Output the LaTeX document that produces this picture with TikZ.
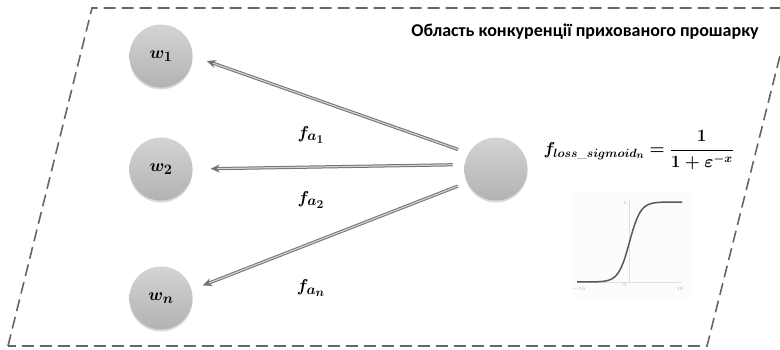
\documentclass[tikz,border=0pt]{standalone}
\usepackage{amsmath}
\usepackage{fontspec}
\usepackage{bm}
\usetikzlibrary{arrows.meta,shadows}
\newfontfamily\titlefont{Carlito}
\DeclareMathSizes{19}{19}{15}{12}
\DeclareMathSizes{16.5}{16.5}{13}{10}

\begin{document}
\begin{tikzpicture}[x=1pt,y=-1pt,
  neuron/.style={circle, minimum size=63pt, inner sep=0pt, top color=black!17, bottom color=black!30,
    drop shadow={opacity=0.3, shadow xshift=0pt, shadow yshift=-2pt}, font=\fontsize{19}{22}\selectfont},
  link/.style={draw=black!55, double=black!18, line width=1pt, double distance=1.2pt,
    -{Stealth[length=9pt,width=8pt]}},
  lbl/.style={font=\fontsize{19}{22}\selectfont},
  tick/.style={font=\fontsize{5}{5}\selectfont, text=gray!70, inner sep=0.5pt}]
\useasboundingbox (0,0) rectangle (780,349);

% competition area
\draw[black!60, line width=1.6pt, dash pattern=on 12pt off 6pt]
  (8,346) -- (92,8) -- (792,8) -- (707,346) -- cycle;
\node[font=\titlefont\bfseries\fontsize{18}{20}\selectfont] (title) at (585,32)
  {Область конкуренції прихованого прошарку};

% neurons
\node[neuron] (w1) at (161,56) {$\bm{w_1}$};
\node[neuron] (w2) at (161,169) {$\bm{w_2}$};
\node[neuron] (wn) at (161,298) {$\bm{w_n}$};
\node[neuron] (c) at (496,169) {};

% links
\draw[link, shorten <=11pt, shorten >=15pt] (c.150) -- (w1.east);
\draw[link, shorten <=12pt, shorten >=18pt] (c.172) -- (w2.east);
\draw[link, shorten <=10pt, shorten >=12pt] (c.205) -- (wn.15);

\node[lbl] (fa1) at (311,135) {$\bm{f_{a_1}}$};
\node[lbl] (fa2) at (311,200) {$\bm{f_{a_2}}$};
\node[lbl] (fan) at (311,288) {$\bm{f_{a_n}}$};

% activation
\node[lbl, font=\fontsize{16.5}{20}\selectfont, anchor=west] (loss) at (540,150)
  {$\bm{f_{loss\_sigmoid_n} = \dfrac{1}{1+\varepsilon^{-x}}}$};

% sigmoid plot
\fill[gray!2] (572,192) rectangle (692,298);
\draw[gray!25, line width=0.6pt] (577,282) -- (682,282);
\draw[gray!25, line width=0.6pt] (629,282) -- (629,200);
\draw[black!65, line width=1.5pt] plot[domain=-10:10, samples=81, smooth]
  ({629.5+5.25*\x}, {282-80/(1+exp(-0.95*\x))});
\node[tick] (xmin) at (579,289) {$-10$};
\node[tick] (xzero) at (625,285) {0};
\node[tick] (xmax) at (680,289) {10};
\node[tick] (yone) at (625,203) {1};
\end{tikzpicture}
\end{document}
